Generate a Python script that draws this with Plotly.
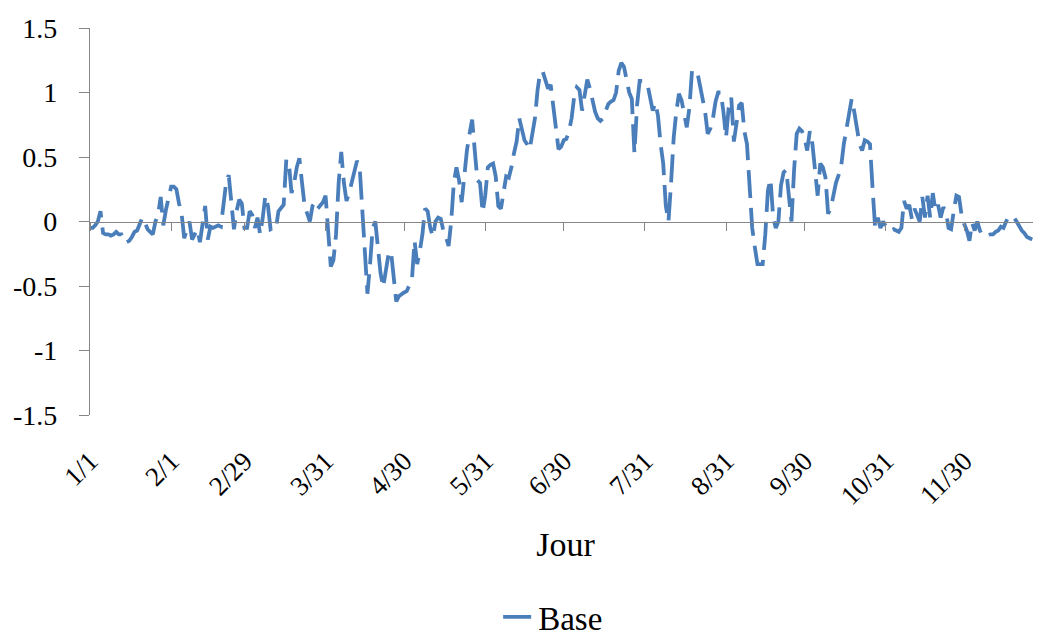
import pandas as pd
import plotly.graph_objects as go

# ---- data (daily values, leap year 2012) ----
jan = [-0.05, -0.05, -0.03, 0.0, 0.08, -0.09, -0.1, -0.1, -0.11, -0.1, -0.08, -0.1, -0.1, -0.16, -0.16,
       -0.15, -0.12, -0.08, -0.07, -0.02, 0.03, -0.01, -0.06, -0.08, -0.1, 0.0, 0.05, 0.19, -0.03, 0.09, 0.2]
feb = [0.27, 0.27, 0.25, 0.14, 0.06, -0.13, -0.06, 0.0, -0.14, -0.1, -0.06, -0.16, 0.0, 0.12, -0.14,
       -0.04, -0.05, -0.04, -0.03, -0.04, 0.16, 0.3, 0.36, 0.15, -0.06, 0.08, 0.17, 0.14, -0.05]
mar = [-0.05, 0.08, 0.05, -0.05, 0.03, -0.1, 0.03, 0.2, 0.12, -0.06, -0.05, -0.06, 0.08, 0.1, 0.13,
       0.48, 0.45, 0.22, 0.3, 0.42, 0.49, 0.3, 0.12, 0.06, 0.0, 0.12, 0.15, 0.1, 0.12, 0.15, 0.2]
apr = [-0.04, -0.35, -0.3, -0.1, 0.3, 0.54, 0.3, 0.16, 0.22, 0.3, 0.4, 0.47, 0.43, 0.08, -0.25,
       -0.56, -0.33, -0.05, 0.0, -0.2, -0.4, -0.51, -0.38, -0.26, -0.23, -0.45, -0.62, -0.58, -0.56, -0.55]
may = [-0.54, -0.5, -0.45, -0.15, -0.33, -0.23, -0.1, 0.1, 0.08, -0.05, -0.12, 0.0, 0.03, 0.02, -0.07,
       -0.12, -0.19, 0.0, 0.3, 0.42, 0.32, 0.15, 0.38, 0.55, 0.68, 0.79, 0.55, 0.32, 0.3, 0.07, 0.2]
jun = [0.42, 0.44, 0.45, 0.35, 0.12, 0.1, 0.24, 0.35, 0.34, 0.42, 0.53, 0.62, 0.8, 0.7, 0.63,
       0.6, 0.56, 0.68, 0.8, 1.02, 1.16, 1.16, 1.1, 1.03, 1.06, 0.9, 0.76, 0.56, 0.58, 0.63]
jul = [0.64, 0.7, 0.8, 0.97, 1.04, 1.02, 0.86, 1.0, 1.1, 1.03, 0.93, 0.85, 0.8, 0.78, 0.8,
       0.86, 0.91, 0.93, 0.94, 1.0, 1.17, 1.23, 1.2, 1.1, 1.0, 0.95, 0.53, 0.9, 1.09, 1.09, 1.08]
aug = [1.06, 0.95, 0.86, 0.92, 0.82, 0.6, 0.45, 0.12, 0.0, 0.3, 0.65, 0.85, 0.99, 0.94, 0.85,
       0.73, 0.88, 1.17, 1.17, 1.16, 1.06, 0.96, 0.85, 0.68, 0.72, 0.8, 0.93, 1.0, 1.0, 0.85, 0.65]
sep = [0.88, 0.96, 0.62, 0.75, 0.9, 0.92, 0.7, 0.6, 0.27, -0.05, -0.2, -0.33, -0.33, -0.33, -0.1,
       0.24, 0.33, 0.03, -0.05, 0.0, 0.28, 0.38, 0.4, 0.22, 0.0, 0.4, 0.68, 0.72, 0.7, 0.65]
oct_ = [0.55, 0.7, 0.6, 0.4, 0.2, 0.45, 0.42, 0.34, 0.06, 0.1, 0.2, 0.3, 0.36, 0.43, 0.6,
        0.72, 0.85, 0.95, 0.85, 0.72, 0.6, 0.55, 0.63, 0.62, 0.6, 0.25, -0.06, 0.03, -0.05, 0.0, -0.03]
nov = [-0.07, -0.07, -0.06, -0.07, -0.08, -0.05, 0.16, 0.1, 0.13, 0.02, 0.1, 0.05, 0.0, 0.19, 0.03,
       0.2, 0.03, 0.22, 0.08, 0.13, 0.03, 0.11, 0.08, -0.05, -0.06, 0.08, 0.2, 0.19, 0.05, -0.02]
dec = [-0.07, -0.15, -0.01, -0.07, 0.0, -0.07, -0.11, -0.11, -0.11, -0.1, -0.1, -0.08, -0.07, -0.04, -0.05,
       0.0, 0.04, 0.03, 0.03, 0.0, -0.04, -0.07, -0.09, -0.12, -0.13, -0.14, -0.1, -0.01, -0.13, -0.15, -0.12]

base_values = jan + feb + mar + apr + may + jun + jul + aug + sep + oct_ + nov + dec
dates = pd.date_range("2012-01-01", periods=len(base_values), freq="D")

tick_dates = ["2012-01-01", "2012-02-01", "2012-02-29", "2012-03-31", "2012-04-30", "2012-05-31",
              "2012-06-30", "2012-07-31", "2012-08-31", "2012-09-30", "2012-10-31", "2012-11-30"]
tick_labels = ["1/1", "2/1", "2/29", "3/31", "4/30", "5/31", "6/30", "7/31", "8/31", "9/30", "10/31", "11/30"]
y_ticks = [1.5, 1.0, 0.5, 0.0, -0.5, -1.0, -1.5]
y_labels = ["1.5", "1", "0.5", "0", "-0.5", "-1", "-1.5"]

series_name = "Base"
x_title = "Jour"

# ---- figure ----
LINE = "#4A7EBB"
AXIS = "#868686"
FONT = "Liberation Serif"

fig = go.Figure()
fig.add_trace(go.Scatter(
    x=dates, y=base_values, mode="lines", name=series_name,
    line=dict(color=LINE, width=3.8, dash="28px,10px"),
))
# helper trace so the zero-crossing axis is rendered
fig.add_trace(go.Scatter(x=[dates[0]], y=[None], xaxis="x2", showlegend=False,
                         hoverinfo="skip", mode="lines"))

x_range = [dates[0], pd.Timestamp("2012-12-29 08:00")]

# the page body adds an 8px offset, so the figure is sized to fit the window
fig.update_layout(
    width=1033, height=628,
    margin=dict(l=82, r=0, t=20, b=221, autoexpand=False),
    paper_bgcolor="white", plot_bgcolor="white",
    font=dict(family=FONT, color="black"),
    showlegend=True,
    legend=dict(orientation="h", x=0.487, xanchor="center", y=-0.522, yanchor="middle",
                font=dict(size=33, family=FONT), bgcolor="rgba(0,0,0,0)"),
    xaxis=dict(
        type="date", range=x_range, tickmode="array", tickvals=tick_dates, ticktext=tick_labels,
        tickangle=-45, ticks="", showline=False, showgrid=False, zeroline=False, automargin=False,
        tickfont=dict(size=27, family=FONT), ticklabelstandoff=24,
        title=dict(text=x_title, font=dict(size=34, family=FONT), standoff=22),
    ),
    xaxis2=dict(
        type="date", range=x_range, overlaying="x", anchor="free", position=0.5,
        tickmode="array", tickvals=tick_dates, showticklabels=False,
        ticks="outside", ticklen=8, tickcolor=AXIS, tickwidth=1.3,
        showline=True, linecolor=AXIS, linewidth=1.3, showgrid=False, zeroline=False,
        automargin=False,
    ),
    yaxis=dict(
        range=[-1.5, 1.5], tickmode="array", tickvals=y_ticks, ticktext=y_labels,
        ticks="outside", ticklen=10, tickcolor=AXIS, tickwidth=1.3,
        showline=True, linecolor=AXIS, linewidth=1.3, showgrid=False, zeroline=False,
        automargin=False,
        tickfont=dict(size=28, family=FONT), ticklabelstandoff=16,
    ),
)

fig.write_html("out.html")
